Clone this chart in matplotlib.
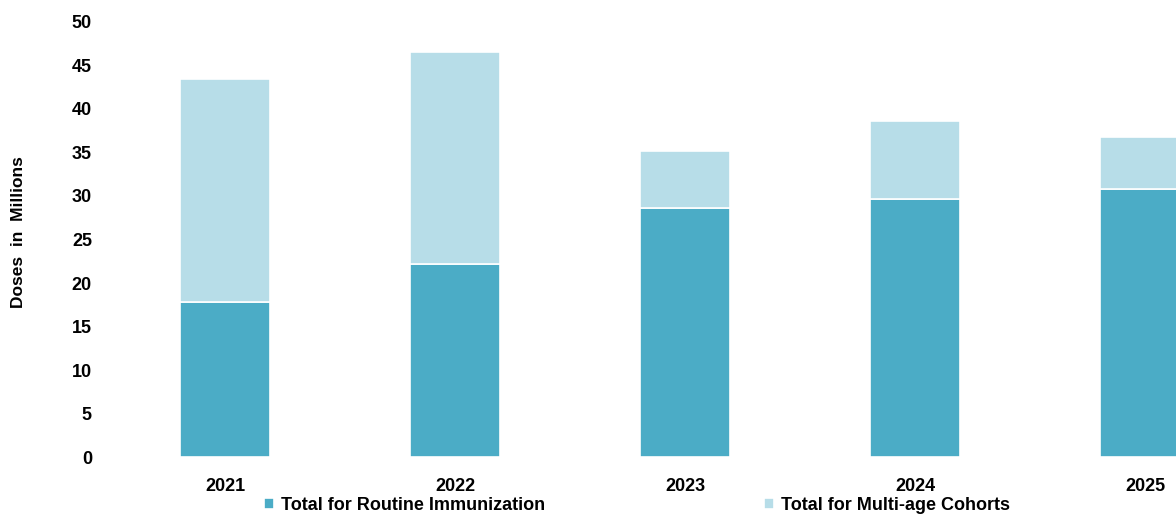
import matplotlib.pyplot as plt
import numpy as np

# Data (doses in millions)
years = ['2021', '2022', '2023', '2024', '2025']
routine = [17.8, 22.2, 28.6, 29.7, 30.8]
multi_age = [25.65, 24.35, 6.6, 8.9, 6.0]

plt.rcParams['font.family'] = ['Liberation Sans Narrow', 'Liberation Sans', 'DejaVu Sans']
plt.rcParams['font.weight'] = 'bold'

color_routine = '#4BACC6'
color_multi = '#B7DDE8'

fig = plt.figure(figsize=(11.76, 5.16), dpi=100)
ax = fig.add_axes([0.1, 0.1143, 0.9, 0.8431])

x = np.arange(len(years))
width = 0.39

b1 = ax.bar(x, routine, width, color=color_routine, edgecolor='white', linewidth=1.2,
            label='Total for Routine Immunization')
b2 = ax.bar(x, multi_age, width, bottom=routine, color=color_multi, edgecolor='white',
            linewidth=1.2, label='Total for Multi-age Cohorts')

ax.set_xlim(-0.467, 4.135)
ax.set_ylim(0, 50)
ax.set_yticks(np.arange(0, 51, 5))
ax.set_xticks(x)
ax.set_xticklabels(years)

for s in ax.spines.values():
    s.set_visible(False)
ax.tick_params(axis='y', length=0, pad=18.5, labelsize=13)
ax.tick_params(axis='x', length=0, pad=15, labelsize=13)
for lab in ax.get_xticklabels() + ax.get_yticklabels():
    lab.set_fontweight('bold')

fig.text(0.016, 0.55, 'Doses  in  Millions', rotation=90, ha='center', va='center',
         fontsize=12.5, fontweight='bold')

fig.legend(handles=[b1, b2], loc='center', bbox_to_anchor=(0.5415, 0.02), ncol=2,
           frameon=False, fontsize=13, handlelength=0.55, handleheight=0.55,
           handletextpad=0.4, columnspacing=12.1, borderaxespad=0)

plt.savefig('out.png', dpi=100)
